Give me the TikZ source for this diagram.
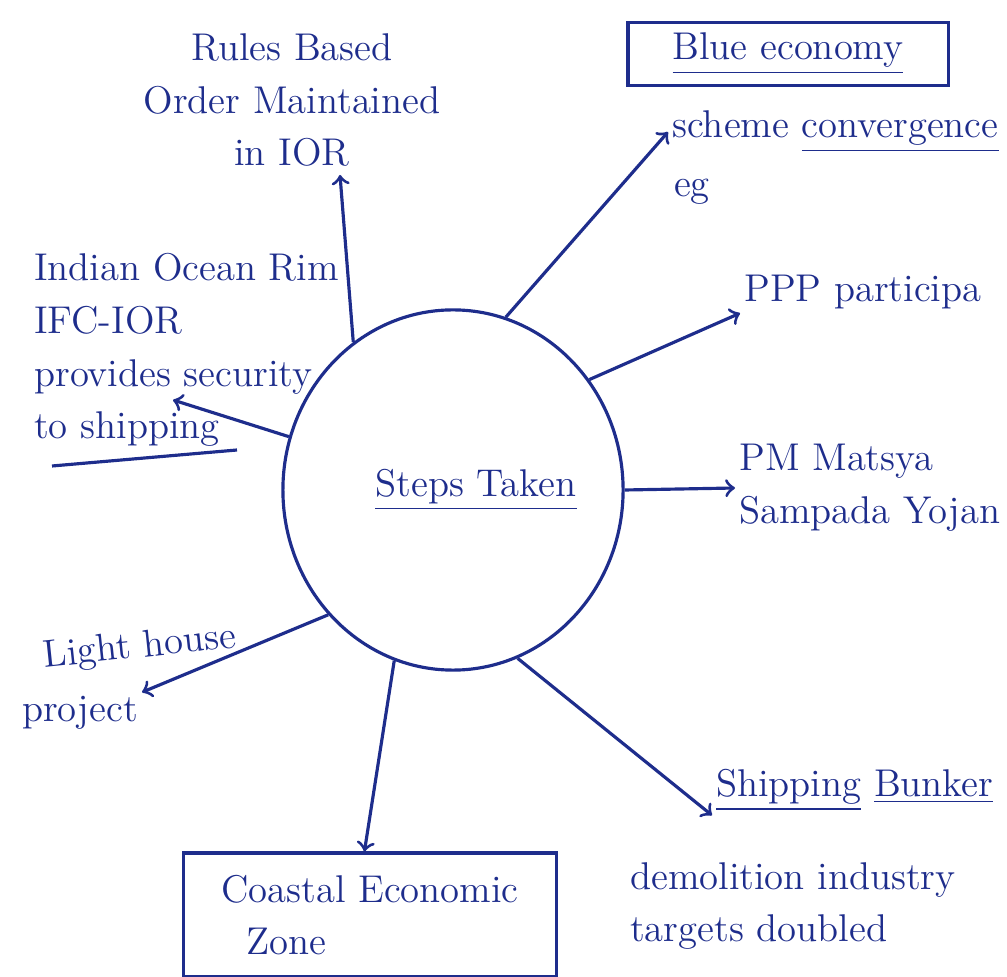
\documentclass[tikz,border=0pt]{standalone}
\usepackage{xcolor}
\usetikzlibrary{arrows,calc,shapes.geometric,positioning}
\definecolor{ink}{RGB}{30,45,140}
\tikzset{
	note/.style={text=ink, font=\fontsize{11}{15}\selectfont, align=left, inner sep=1pt},
	link/.style={->, draw=ink, line width=0.9pt},
	framed/.style={draw=ink, line width=0.9pt}
}

\begin{document}
\begin{tikzpicture}[x=0.01cm, y=-0.01cm]
	\useasboundingbox (0,0) rectangle (1007,977);

	% Centre
	\node[ellipse, draw=ink, line width=0.9pt, minimum width=3.4cm, minimum height=3.6cm] (hub) at (453,490) {};
	\node[note] (steps) at (476,490) {\underline{Steps Taken}};

	% Left side
	\node[note, align=center] (rules) at (292,100) {Rules Based\\Order Maintained\\in IOR};
	\coordinate (rulestip) at (340,175);
	\node[note, anchor=west] (ior) at (30,350) {Indian Ocean Rim\\IFC-IOR\\provides security\\to shipping};
	\coordinate (iortip) at (173,400);
	\draw[ink, line width=0.9pt] (52,466) -- (237,450);
	\node[note, rotate=6] (lighthouse) at (140,648) {Light house};
	\node[note] (project) at (80,713) {project};

	% Right side
	\node[framed, note, minimum width=3.2cm, minimum height=0.63cm] (blue) at (788,54) {\underline{Blue economy}};
	\node[note, anchor=west] (scheme) at (668,132) {scheme \underline{convergence}};
	\node[note] (eg) at (692,192) {eg};
	\node[note, anchor=west] (ppp) at (740,292) {PPP participa};
	\node[note, anchor=west] (matsya) at (735,488) {PM Matsya\\Sampada Yojan};

	% Bottom
	\node[framed, note, minimum width=3.73cm, minimum height=1.24cm, align=left] (zone) at (370,915) {Coastal Economic\\\ \ Zone};
	\node[note, anchor=west] (bunker) at (712,790) {\underline{Shipping} \underline{Bunker}};
	\node[note, anchor=north west] (demolition) at (626,858) {demolition industry\\targets doubled};

	% Arrows from centre
	\draw[link] (hub.124) -- (rulestip);
	\draw[link] (hub.162) -- (iortip);
	\draw[link] (hub.73) -- (scheme.west);
	\draw[link] (hub.39) -- (ppp.south west);
	\draw[link] (hub.east) -- (matsya.west);
	\draw[link] (hub.225) -- (project.north east);
	\draw[link] (hub.251) -- (zone.95);
	\draw[link] (hub.291) -- (bunker.south west);
\end{tikzpicture}
\end{document}
